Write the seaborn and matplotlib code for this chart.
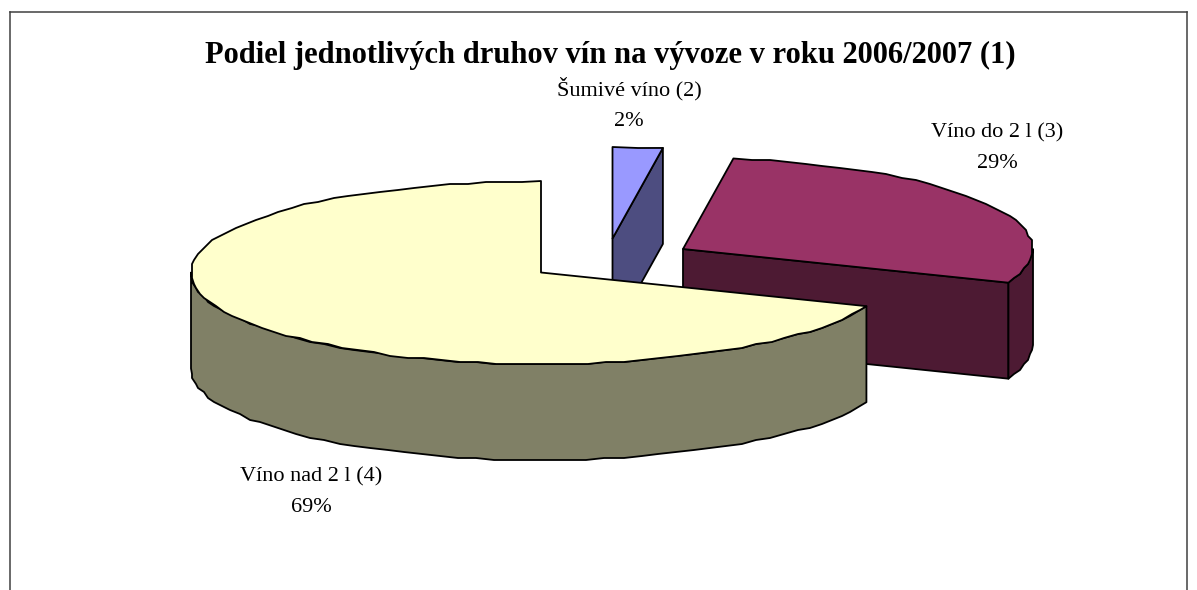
import numpy as np
import seaborn as sns
import matplotlib.pyplot as plt
from matplotlib.patches import Polygon

title = "Podiel jednotlivých druhov vín na vývoze v roku 2006/2007 (1)"
categories = ["Šumivé víno (2)", "Víno do 2 l (3)", "Víno nad 2 l (4)"]
shares = [2.3, 28.7, 69.0]
percent_labels = ["2%", "29%", "69%"]
top_colors = ["#9999FF", "#993366", "#FFFFCC"]

# layout in image pixels
W, H = 1197, 590
RX, RY, DEPTH = 350, 91.5, 96
apexes = [(612.5, 238.5), (683, 249), (541, 272.5)]
label_pos = [(629, 104), (997, 148), (311, 492)]

sns.set_theme(style="white")
plt.rcParams["font.family"] = ["Liberation Serif", "DejaVu Serif"]


def rim(apex, t0, t1, step=3.0):
    # clockwise from 12 o'clock, snapped to a coarse grid for the jagged old-office look
    n = max(int(abs(t1 - t0) / step), 1) + 1
    t = np.radians(np.linspace(t0, t1, n))
    x = apex[0] + RX * np.sin(t)
    y = apex[1] - RY * np.cos(t)
    inner = np.ones(n, dtype=bool)
    inner[[0, -1]] = False
    x[inner] = np.round(x[inner] / 2) * 2
    y[inner] = np.round(y[inner] / 2) * 2
    return np.column_stack([x, y])


def add_poly(ax, pts, color):
    ax.add_patch(Polygon(pts, closed=True, facecolor=color, edgecolor="black",
                         linewidth=1.3, joinstyle="round"))


def draw_slice(ax, apex, t0, t1, color):
    dark = tuple(c * 0.5 for c in sns.color_palette([color])[0])
    apex_arr = np.array(apex, dtype=float)
    down = np.array([0, DEPTH])
    p1 = rim(apex, t1, t1)[0]

    # cut face looking towards the viewer
    if t0 < 90:
        add_poly(ax, [apex_arr, p1, p1 + down, apex_arr + down], dark)
    # outer wall, only the part in front of the widest point
    a = max(t0, 90)
    b = min(t1, 270)
    if b > a:
        front = rim(apex, a, b)
        add_poly(ax, np.vstack([front, (front + down)[::-1]]), dark)
    add_poly(ax, np.vstack([[apex_arr], rim(apex, t0, t1)]), color)


fig = plt.figure(figsize=(W / 100, H / 100), dpi=100)
ax = fig.add_axes([10 / W, 0, (1187 - 10) / W, (H - 12) / H])
ax.set_xlim(10, 1187)
ax.set_ylim(H, 12)
ax.set_xticks([])
ax.set_yticks([])
sns.despine(ax=ax, top=False, right=False, left=False, bottom=True)
for side in ["left", "top", "right"]:
    ax.spines[side].set_color("#404040")
    ax.spines[side].set_linewidth(1.1)

ends = np.cumsum(shares) / 100 * 360
starts = np.r_[0, ends[:-1]]
for apex, t0, t1, color in zip(apexes, starts, ends, top_colors):
    draw_slice(ax, apex, t0, t1, color)

ax.text(610.5, 55.5, title, ha="center", va="center", fontsize=22,
        fontweight="bold", color="black")
for name, pct, (x, y) in zip(categories, percent_labels, label_pos):
    ax.text(x, y, f"{name}\n{pct}", ha="center", va="center", fontsize=16,
            color="black", linespacing=1.8)

fig.savefig("out.png", dpi=100, facecolor="white")
